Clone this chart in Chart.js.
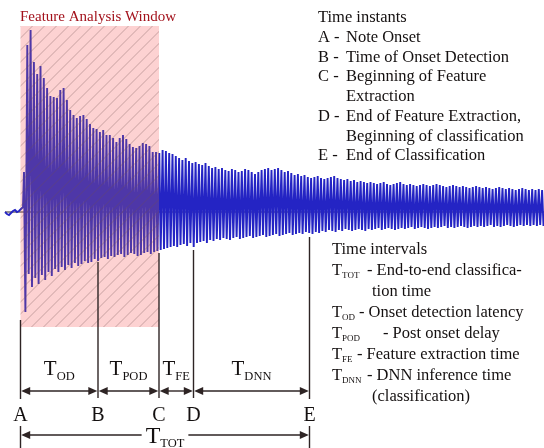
<!DOCTYPE html>
<html>
<head>
<meta charset="utf-8">
<script src="https://cdn.jsdelivr.net/npm/chart.js@4.4.0/dist/chart.umd.min.js"></script>
<style>
  html, body { margin: 0; padding: 0; background: #fff; }
  #wrap { width: 544px; height: 448px; }
</style>
</head>
<body>
<div id="wrap"><canvas id="chart" width="544" height="448"></canvas></div>
<script>
// small wiggle before the note starts
const preOnsetTimes = [5, 7, 9, 11, 13, 15, 17, 19, 21, 23];
const preOnsetValues = [0, -2, -3, -1, 1, 2, 0, 1, 3, 5];

// one value per oscillation cycle (arbitrary amplitude units)
const cycleStart = 24;
const cyclePeriod = 3.3;
const peakHigh = [
    40, 167, 182, 150, 138, 146, 134, 124, 116, 115,
    114, 122, 124, 112, 102, 97, 94, 96, 97, 93,
    88, 84, 83, 80, 82, 77, 77, 74, 70, 74,
    77, 73, 68, 65, 64, 66, 69, 68, 66, 60,
    60, 59, 62, 61, 59, 58, 56, 54, 52, 54,
    51, 49, 50, 48, 47, 49, 46, 44, 45, 43,
    44, 42, 41, 43, 42, 40, 41, 43, 42, 40,
    38, 40, 42, 43, 44, 42, 43, 44, 42, 40,
    41, 39, 37, 38, 36, 37, 35, 34, 35, 36,
    34, 33, 34, 35, 36, 34, 33, 32, 33, 31,
    32, 30, 31, 30, 29, 30, 29, 28, 29, 30,
    28, 27, 28, 29, 30, 28, 27, 28, 27, 26,
    27, 28, 27, 26, 27, 28, 27, 26, 25, 26,
    27, 26, 25, 26, 25, 24, 25, 26, 25, 24,
    25, 24, 23, 24, 25, 24, 23, 24, 23, 22,
    23, 24, 23, 22, 23, 22, 23, 22
];
const peakLow = [
    100, 62, 75, 66, 72, 63, 68, 60, 64, 57,
    60, 55, 58, 53, 56, 51, 54, 52, 49, 51,
    50, 47, 49, 46, 45, 47, 44, 45, 43, 42,
    45, 43, 41, 42, 44, 43, 41, 40, 42, 40,
    39, 38, 37, 36, 35, 34, 35, 33, 32, 34,
    31, 35, 31, 30, 29, 31, 28, 29, 27, 28,
    26, 27, 28, 26, 25, 27, 26, 25, 24, 26,
    25, 24, 23, 25, 24, 23, 22, 24, 23, 22,
    21, 23, 22, 21, 22, 20, 21, 22, 20, 21,
    19, 20, 18, 19, 20, 18, 19, 17, 18, 19,
    18, 17, 18, 19, 17, 18, 17, 16, 18, 17,
    16, 17, 18, 17, 16, 17, 16, 15, 17, 16,
    15, 16, 17, 16, 15, 16, 15, 14, 16, 15,
    16, 15, 14, 15, 16, 15, 14, 15, 14, 15,
    14, 13, 15, 14, 15, 14, 13, 14, 15, 14,
    13, 14, 13, 14, 13, 14, 13, 14
];

// time instants and where each marker line starts (just below the trace)
const instantNames = ['A', 'B', 'C', 'D', 'E'];
const instantTimes = [20.5, 98, 159, 193.5, 309.5];
const markerTops = [-108, -50, -41, -38, -25];
const intervalNames = ['OD', 'POD', 'FE', 'DNN'];

// feature analysis window spans A..C
const windowTop = 186;
const windowBottom = -115;

const instantLines = [
    ['A -', 'Note Onset'],
    ['B -', 'Time of Onset Detection'],
    ['C -', 'Beginning of Feature'],
    ['', 'Extraction'],
    ['D -', 'End of Feature Extraction,'],
    ['', 'Beginning of classification'],
    ['E -', 'End of Classification']
];
const intervalLines = [
    ['TOT', '- End-to-end classifica-'],
    ['', 'tion time'],
    ['OD', '- Onset detection latency'],
    ['POD', '- Post onset delay'],
    ['FE', '- Feature extraction time'],
    ['DNN', '- DNN inference time'],
    ['', '(classification)']
];

const SERIF = '"Liberation Serif", "Times New Roman", serif';
const INK = '#141010';
const RULE = '#2e2424';

const trace = [];
preOnsetTimes.forEach((t, i) => trace.push({ x: t, y: preOnsetValues[i] }));
peakHigh.forEach((v, i) => {
    const t = cycleStart + i * cyclePeriod;
    trace.push({ x: t, y: v });
    trace.push({ x: t + 1.4, y: -peakLow[i] });
});

function arrowHead(ctx, x, y, dir) {
    ctx.beginPath();
    ctx.moveTo(x, y);
    ctx.lineTo(x - dir * 9, y - 4);
    ctx.lineTo(x - dir * 9, y + 4);
    ctx.closePath();
    ctx.fill();
}

function subLabel(ctx, x, y, main, sub, mainSize, subSize, drop) {
    ctx.font = mainSize + 'px ' + SERIF;
    ctx.fillText(main, x, y);
    const w = ctx.measureText(main).width;
    ctx.font = subSize + 'px ' + SERIF;
    ctx.fillText(sub, x + w, y + drop);
    return w + ctx.measureText(sub).width;
}

function subWidth(ctx, main, sub, mainSize, subSize) {
    ctx.font = mainSize + 'px ' + SERIF;
    const w = ctx.measureText(main).width;
    ctx.font = subSize + 'px ' + SERIF;
    return w + ctx.measureText(sub).width;
}

const diagram = {
    id: 'diagram',
    beforeDatasetsDraw(chart) {
        const { ctx, scales: { x, y } } = chart;
        ctx.save();
        ctx.strokeStyle = RULE;
        ctx.lineWidth = 1.2;
        ctx.beginPath();
        ctx.moveTo(5, y.getPixelForValue(0));
        ctx.lineTo(544, y.getPixelForValue(0));
        ctx.stroke();
        ctx.restore();
    },
    afterDatasetsDraw(chart) {
        const { ctx, scales: { x, y } } = chart;
        const px = instantTimes.map(t => x.getPixelForValue(t));
        ctx.save();

        // feature analysis window, pink over the trace with hatching
        const wx0 = px[0], wx1 = px[2];
        const wy0 = y.getPixelForValue(windowTop), wy1 = y.getPixelForValue(windowBottom);
        ctx.save();
        ctx.globalCompositeOperation = 'multiply';
        ctx.fillStyle = 'rgb(254, 225, 225)';
        ctx.fillRect(wx0, wy0, wx1 - wx0, wy1 - wy0);
        ctx.restore();
        ctx.fillStyle = 'rgba(250, 150, 150, 0.2)';
        ctx.fillRect(wx0, wy0, wx1 - wx0, wy1 - wy0);
        ctx.save();
        ctx.beginPath();
        ctx.rect(wx0, wy0, wx1 - wx0, wy1 - wy0);
        ctx.clip();
        ctx.strokeStyle = 'rgba(110, 80, 80, 0.55)';
        ctx.lineWidth = 0.7;
        for (let k = wx0 - (wy1 - wy0); k < wx1; k += 12) {
            ctx.beginPath();
            ctx.moveTo(k, wy1);
            ctx.lineTo(k + (wy1 - wy0), wy0);
            ctx.stroke();
        }
        ctx.restore();

        ctx.fillStyle = '#a3121c';
        ctx.font = '15px ' + SERIF;
        ctx.textBaseline = 'alphabetic';
        ctx.fillText('Feature Analysis Window', 20, 21);

        // marker lines
        ctx.strokeStyle = RULE;
        ctx.lineWidth = 1.4;
        px.forEach((xp, i) => {
            const top = y.getPixelForValue(markerTops[i]);
            ctx.beginPath();
            if (i === 0 || i === px.length - 1) {
                ctx.moveTo(xp, top);
                ctx.lineTo(xp, 399);
                ctx.moveTo(xp, 426);
                ctx.lineTo(xp, 448);
            } else {
                ctx.moveTo(xp, top);
                ctx.lineTo(xp, 398);
            }
            ctx.stroke();
        });

        // interval arrows and labels
        ctx.fillStyle = RULE;
        for (let i = 0; i < px.length - 1; i++) {
            const a = px[i] + 0.7, b = px[i + 1] - 0.7;
            ctx.beginPath();
            ctx.moveTo(a + 4, 391);
            ctx.lineTo(b - 4, 391);
            ctx.stroke();
            arrowHead(ctx, a, 391, -1);
            arrowHead(ctx, b, 391, 1);
        }
        ctx.fillStyle = INK;
        intervalNames.forEach((name, i) => {
            const cx = (px[i] + px[i + 1]) / 2;
            const w = subWidth(ctx, 'T', name, 21, 12.5);
            subLabel(ctx, cx - w / 2, 375, 'T', name, 21, 12.5, 5);
        });

        // instant letters
        ctx.font = '20px ' + SERIF;
        ctx.textAlign = 'center';
        px.forEach((xp, i) => ctx.fillText(instantNames[i], xp, 421));
        ctx.textAlign = 'left';

        // total time arrow
        const tw = subWidth(ctx, 'T', 'TOT', 24, 12.5);
        const tc = (px[0] + px[4]) / 2;
        ctx.beginPath();
        ctx.moveTo(px[0] + 4, 435);
        ctx.lineTo(tc - tw / 2 - 4, 435);
        ctx.moveTo(tc + tw / 2 + 4, 435);
        ctx.lineTo(px[4] - 4, 435);
        ctx.stroke();
        ctx.fillStyle = RULE;
        arrowHead(ctx, px[0] + 0.7, 435, -1);
        arrowHead(ctx, px[4] - 0.7, 435, 1);
        ctx.fillStyle = INK;
        subLabel(ctx, tc - tw / 2, 443, 'T', 'TOT', 24, 12.5, 4);

        // legend: time instants
        ctx.font = '16.5px ' + SERIF;
        ctx.fillText('Time instants', 318, 22);
        instantLines.forEach((row, i) => {
            const base = 42 + i * 19.7;
            ctx.fillText(row[0], 318, base);
            ctx.fillText(row[1], 346, base);
        });

        // legend: time intervals
        ctx.fillText('Time intervals', 332, 254);
        const restX = [367, 372, 359, 383, 357, 367, 372];
        intervalLines.forEach((row, i) => {
            const base = 275 + i * 21;
            if (row[0]) {
                subLabel(ctx, 332, base, 'T', row[0], 16.5, 9, 3);
            }
            ctx.font = '16.5px ' + SERIF;
            ctx.fillText(row[1], restX[i], base);
        });

        ctx.restore();
    }
};

new Chart(document.getElementById('chart'), {
    type: 'line',
    data: {
        datasets: [{
            label: 'Note waveform',
            data: trace,
            borderColor: '#2424c4',
            borderWidth: 1.9,
            pointRadius: 0,
            tension: 0,
            fill: false
        }]
    },
    options: {
        responsive: false,
        animation: false,
        layout: { padding: 0 },
        scales: {
            x: { type: 'linear', min: 0, max: 544, display: false },
            y: { min: -236, max: 212, display: false }
        },
        plugins: {
            legend: { display: false },
            tooltip: { enabled: false }
        }
    },
    plugins: [diagram]
});
</script>
</body>
</html>
